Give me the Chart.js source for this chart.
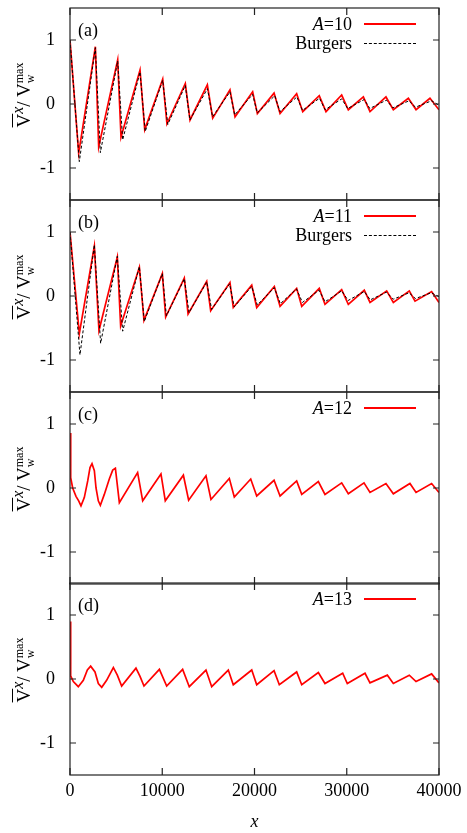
<!DOCTYPE html>
<html>
<head>
<meta charset="utf-8">
<script src="https://cdn.jsdelivr.net/npm/chart.js@4.4.0/dist/chart.umd.min.js"></script>
<style>
  body { margin: 0; background: #fff; }
  #wrap { position: relative; width: 467px; height: 833px; overflow: hidden;
          font-family: "Liberation Serif", "Times New Roman", serif; color: #000; }
  canvas { position: absolute; left: 0; }
  .lab { position: absolute; left: 78px; font-size: 18px; line-height: 20px; white-space: nowrap; }
  .key { position: absolute; right: 115px; font-size: 18px; line-height: 20px; text-align: right; white-space: nowrap; }
  .sample { position: absolute; left: 364px; width: 52px; height: 0; }
  .red { border-top: 2px solid #ff0000; }
  .dash { border-top: 1px dashed #000; }
  .ytitle { position: absolute; left: -32px; width: 100px; height: 24px; text-align: center;
            font-size: 19px; line-height: 24px; transform: rotate(-90deg); white-space: nowrap; }
  .ov { text-decoration: overline; }
  .stk { display: inline-block; vertical-align: -4px; font-size: 12px; line-height: 11px; text-align: left; }
  .stk span { display: block; }
</style>
</head>
<body>
<div id="wrap">
  <canvas id="pa" width="467" height="208"></canvas>
  <canvas id="pb" width="467" height="208"></canvas>
  <canvas id="pc" width="467" height="208"></canvas>
  <canvas id="pd" width="467" height="258"></canvas>
</div>
<script>
// ---- data ----
// panel (a): A=10 and Burgers
const xA10 = [0, 940, 2750, 3110, 5170, 5530, 7590, 8100, 10050, 10510, 12500, 13010, 14890, 15470, 17340, 17890,
  19800, 20310, 22120, 22770, 24570, 25230, 27020, 27750, 29450, 30170, 31800, 32520, 34250, 35050, 36680, 37510, 39020, 40000];
const yA10 = [1.0, -0.77, 0.895, -0.67, 0.69, -0.52, 0.53, -0.40, 0.39, -0.31, 0.32, -0.25, 0.30, -0.22, 0.22, -0.20,
  0.19, -0.15, 0.17, -0.15, 0.16, -0.12, 0.13, -0.12, 0.14, -0.09, 0.11, -0.12, 0.11, -0.09, 0.09, -0.09, 0.09, -0.09];
const xBurgA = [0, 1010, 2750, 3290, 5170, 5710, 7590, 8150, 10050, 10600, 12500, 13000, 14900, 15450, 17340, 17850,
  19800, 20300, 22200, 22750, 24600, 25200, 27050, 27650, 29450, 30100, 31900, 32500, 34300, 35000, 36750, 37450, 39200, 40000];
const yBurgA = [1.0, -0.90, 0.88, -0.76, 0.67, -0.56, 0.50, -0.43, 0.37, -0.32, 0.29, -0.25, 0.24, -0.20, 0.19, -0.17,
  0.15, -0.14, 0.13, -0.12, 0.11, -0.10, 0.09, -0.09, 0.08, -0.07, 0.07, -0.07, 0.06, -0.06, 0.05, -0.05, 0.05, -0.02];

// panel (b): A=11 and Burgers
const xA11 = [0, 1010, 2640, 3140, 5130, 5490, 7520, 8020, 10010, 10370, 12390, 12800, 14820, 15250, 17340, 17700,
  19700, 20240, 22150, 22770, 24570, 25120, 27020, 27640, 29450, 30170, 31900, 32520, 34330, 35050, 36780, 37400, 39200, 40000];
const yA11 = [1.0, -0.59, 0.78, -0.54, 0.61, -0.47, 0.45, -0.38, 0.35, -0.33, 0.28, -0.28, 0.23, -0.23, 0.21, -0.18,
  0.17, -0.18, 0.15, -0.16, 0.12, -0.16, 0.12, -0.13, 0.10, -0.13, 0.09, -0.10, 0.08, -0.10, 0.08, -0.08, 0.07, -0.10];
const xBurgB = [0, 1080, 2640, 3320, 5130, 5710, 7520, 8050, 10010, 10450, 12400, 12900, 14820, 15350, 17300, 17800,
  19700, 20300, 22150, 22800, 24550, 25200, 27000, 27650, 29450, 30150, 31900, 32550, 34300, 35050, 36750, 37450, 39150, 40000];
const yBurgB = [1.0, -0.92, 0.80, -0.74, 0.62, -0.55, 0.46, -0.40, 0.35, -0.31, 0.27, -0.26, 0.22, -0.21, 0.19, -0.17,
  0.15, -0.14, 0.13, -0.12, 0.11, -0.10, 0.09, -0.09, 0.08, -0.07, 0.07, -0.06, 0.06, -0.05, 0.05, -0.04, 0.05, -0.01];

// panel (c): A=12
const xA12 = [0, 75, 290, 650, 940, 1190, 1550, 1920, 2170, 2385, 2640, 2820, 3070, 3290, 3720, 4260, 4630, 4920, 5350,
  7330, 7880, 9860, 10330, 12290, 12860, 14740, 15280, 17270, 17810, 19590, 20240, 22120, 22770, 24570, 25120,
  26920, 27640, 29450, 30170, 31870, 32520, 34250, 35050, 36850, 37510, 39200, 40000];
const yA12 = [0.86, 0.16, 0.0, -0.13, -0.20, -0.28, -0.15, 0.11, 0.32, 0.38, 0.27, 0.0, -0.20, -0.27, -0.10, 0.14, 0.28, 0.31, -0.23,
  0.24, -0.20, 0.22, -0.20, 0.20, -0.19, 0.19, -0.18, 0.15, -0.14, 0.14, -0.125, 0.12, -0.125, 0.11, -0.10,
  0.10, -0.10, 0.08, -0.09, 0.08, -0.07, 0.07, -0.09, 0.07, -0.07, 0.07, -0.07];

// panel (d): A=13
const xA13 = [0, 72, 360, 900, 1445, 1880, 2240, 2710, 3070, 3440, 3970, 4700, 5130, 5600, 7150, 7590, 8020,
  9690, 10480, 12210, 12930, 14740, 15360, 17160, 17700, 19700, 20240, 22120, 22690, 24570, 25120, 26920, 27640,
  29560, 30060, 31980, 32520, 34400, 35050, 36780, 37510, 39200, 40000];
const yA13 = [0.9, 0.05, -0.04, -0.12, -0.02, 0.14, 0.20, 0.11, -0.07, -0.13, -0.02, 0.18, 0.06, -0.11, 0.17, 0.04, -0.11,
  0.15, -0.11, 0.15, -0.12, 0.14, -0.12, 0.14, -0.09, 0.14, -0.09, 0.13, -0.09, 0.11, -0.09, 0.10, -0.07,
  0.09, -0.07, 0.09, -0.06, 0.06, -0.07, 0.06, -0.04, 0.08, -0.06];

const xTicks = [0, 10000, 20000, 30000, 40000];
const yTicks = [-1, 0, 1];
const panelNames = ['(a)', '(b)', '(c)', '(d)'];
const keyNames = ['10', '11', '12', '13'];

// ---- layout ----
const panelTops = [8, 200, 392, 583];
const tickFont = { family: '"Liberation Serif", "Times New Roman", serif', size: 18 };

function pts(xs, ys) {
  return xs.map((x, i) => ({ x: x, y: ys[i] }));
}

// gnuplot style box with inward ticks on all four sides
const boxPlugin = {
  id: 'box',
  afterDraw(chart) {
    const { ctx, chartArea: a, scales } = chart;
    ctx.save();
    ctx.strokeStyle = '#222';
    ctx.lineWidth = 1.2;
    ctx.strokeRect(a.left, a.top, a.right - a.left, a.bottom - a.top);
    ctx.beginPath();
    xTicks.forEach(v => {
      const px = scales.x.getPixelForValue(v);
      ctx.moveTo(px, a.top); ctx.lineTo(px, a.top + 7);
      ctx.moveTo(px, a.bottom); ctx.lineTo(px, a.bottom - 7);
    });
    yTicks.forEach(v => {
      const py = scales.y.getPixelForValue(v);
      ctx.moveTo(a.left, py); ctx.lineTo(a.left + 6, py);
      ctx.moveTo(a.right, py); ctx.lineTo(a.right - 6, py);
    });
    ctx.stroke();
    ctx.restore();
  }
};

function redSet(xs, ys) {
  return { data: pts(xs, ys), borderColor: '#ff0000', borderWidth: 1.7, order: 1 };
}
function burgSet(xs, ys) {
  return { data: pts(xs, ys), borderColor: '#000', borderWidth: 1, borderDash: [3, 2], order: 0 };
}

function makePanel(id, sets, bottomAxis) {
  return new Chart(document.getElementById(id), {
    type: 'scatter',
    data: { datasets: sets },
    options: {
      responsive: false,
      animation: false,
      devicePixelRatio: 1,
      showLine: true,
      layout: { padding: { top: 8, right: 28, bottom: bottomAxis ? 0 : 8, left: 0 } },
      plugins: { legend: { display: false }, tooltip: { enabled: false } },
      elements: { point: { radius: 0 }, line: { tension: 0 } },
      scales: {
        x: {
          type: 'linear', min: 0, max: 40000, display: bottomAxis,
          afterBuildTicks: s => { s.ticks = xTicks.map(v => ({ value: v })); },
          afterFit: s => {
            s.height = bottomAxis ? 58 : 0;
            s.paddingLeft = 0; s.paddingRight = 0;
          },
          grid: { display: false, drawTicks: false },
          border: { display: false },
          ticks: { font: tickFont, color: '#000', padding: 5, maxRotation: 0, callback: v => String(v) },
          title: { display: true, text: 'x', color: '#000', padding: 0,
                   font: Object.assign({}, tickFont, { style: 'italic' }) }
        },
        y: {
          min: -1.5, max: 1.5,
          afterBuildTicks: s => { s.ticks = yTicks.map(v => ({ value: v })); },
          afterFit: s => {
            s.width = 70;
            s.paddingTop = 0; s.paddingBottom = 0;
          },
          grid: { display: false, drawTicks: false },
          border: { display: false },
          ticks: { font: tickFont, color: '#000', padding: 15, callback: v => String(v) }
        }
      }
    },
    plugins: [boxPlugin]
  });
}

// position canvases so the plot boxes stack
['pa', 'pb', 'pc', 'pd'].forEach((id, i) => {
  document.getElementById(id).style.top = (panelTops[i] - 8) + 'px';
});

makePanel('pa', [redSet(xA10, yA10), burgSet(xBurgA, yBurgA)], false);
makePanel('pb', [redSet(xA11, yA11), burgSet(xBurgB, yBurgB)], false);
makePanel('pc', [redSet(xA12, yA12)], false);
makePanel('pd', [redSet(xA13, yA13)], true);

// text overlays: panel letter, key, y title
const wrap = document.getElementById('wrap');
panelTops.forEach((top, i) => {
  let html = '';
  html += `<div class="lab" style="top:${top + 12}px">${panelNames[i]}</div>`;
  html += `<div class="key" style="top:${top + 6}px"><i>A</i>=${keyNames[i]}</div>`;
  html += `<div class="sample red" style="top:${top + 15}px"></div>`;
  if (i < 2) {
    html += `<div class="key" style="top:${top + 25}px">Burgers</div>`;
    html += `<div class="sample dash" style="top:${top + 35}px"></div>`;
  }
  html += `<div class="ytitle" style="top:${top + 75}px"><span class="ov">V</span><sup><i>x</i></sup>/ V<span class="stk"><span>max</span><span>w</span></span></div>`;
  wrap.insertAdjacentHTML('beforeend', html);
});
</script>
</body>
</html>
